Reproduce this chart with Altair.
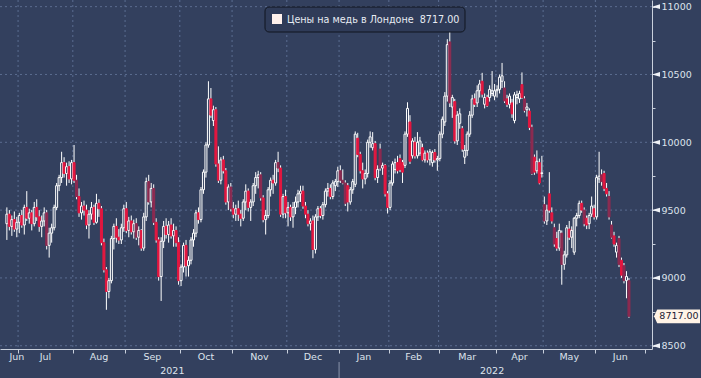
import altair as alt
import pandas as pd

# ---------------- data ----------------
opens = [
    9400, 9470, 9380, 9430, 9360,
    9410, 9460, 9390, 9520, 9440, 9480, 9400, 9520, 9450, 9380, 9420, 9480, 9240, 9330, 9370, 9520, 9680, 9740, 9850, 9770, 9820, 9730,
    9850, 9720, 9600, 9480, 9530, 9500, 9390, 9470, 9520, 9410, 9550, 9510, 9260, 9060, 8900, 8980, 9290, 9380, 9300, 9280, 9370,
    9510, 9350, 9420, 9340, 9400, 9300, 9350, 9220, 9450, 9710, 9560, 9660, 9410, 9280, 9010, 9270, 9380, 9320, 9390, 9310, 9350, 9260,
    8980, 9080, 9240, 9090, 9130, 9280, 9330, 9480, 9430, 9650, 9780, 9980, 10320, 10160, 10240, 9840, 9720, 9870, 9790, 9560, 9670,
    9510, 9470, 9510, 9470, 9440, 9560, 9640, 9520, 9560, 9680, 9740, 9760, 9590, 9430, 9460, 9650, 9720, 9700, 9850, 9810, 9470, 9600,
    9480, 9520, 9450, 9520, 9560, 9620, 9640, 9530, 9470, 9400, 9420, 9210, 9450, 9510, 9460, 9540, 9640, 9660, 9600, 9680, 9710,
    9790, 9720, 9700, 9680, 9560, 9650, 9690, 10030, 9910, 9790, 9730, 9770, 10000, 9960, 9990, 9740, 9950, 9810, 9830, 9620,
    9520, 9700, 9800, 9850, 9880, 9850, 9830, 10060, 10150, 9900, 10000, 9900, 9920, 9960, 9870, 9920, 9870, 9850, 9925, 9870,
    9880, 10060, 10150, 10340, 10740, 10260, 10300, 10010, 10140, 10100, 9890, 9940, 10060, 10200, 10320, 10290, 10380, 10450, 10280, 10330, 10330, 10360, 10340,
    10380, 10390, 10450, 10400, 10320, 10280, 10290, 10160, 10330, 10320, 10425, 10320, 10240, 10230, 10110, 9890, 9790, 9850, 9770,
    9540, 9420, 9620, 9480, 9370, 9290, 9220, 9330, 9100, 9170, 9360, 9300, 9190, 9440, 9460, 9550, 9500, 9440, 9400, 9470, 9510,
    9450, 9730, 9760, 9770, 9660, 9600, 9390, 9310, 9190, 9290, 9130, 9090, 8980, 8980,
]
highs = [
    9520, 9500, 9460, 9490, 9450,
    9480, 9500, 9540, 9640, 9510, 9500, 9560, 9580, 9500, 9460, 9520, 9500, 9370, 9400, 9540, 9700, 9760, 9930, 9890, 9850, 9860, 9870,
    9980, 9760, 9660, 9560, 9570, 9540, 9500, 9560, 9540, 9620, 9580, 9530, 9290, 9080, 9000, 9310, 9400, 9440, 9360, 9400, 9540,
    9560, 9450, 9460, 9430, 9440, 9380, 9360, 9480, 9740, 9760, 9700, 9690, 9440, 9300, 9300, 9420, 9440, 9420, 9440, 9400, 9380, 9300,
    9100, 9260, 9280, 9160, 9300, 9360, 9500, 9520, 9670, 9800, 10000, 10450, 10400, 10270, 10260, 9970, 9890, 9900, 9810, 9690, 9700,
    9560, 9540, 9570, 9500, 9580, 9690, 9660, 9580, 9700, 9780, 9790, 9780, 9610, 9500, 9670, 9740, 9760, 9870, 9930, 9830, 9620, 9650,
    9560, 9540, 9560, 9600, 9650, 9680, 9680, 9560, 9500, 9440, 9460, 9470, 9530, 9530, 9560, 9660, 9700, 9690, 9720, 9730, 9820,
    9830, 9800, 9720, 9700, 9670, 9730, 10080, 10070, 9930, 9850, 9800, 10020, 10080, 10075, 10010, 9830, 9990, 9850, 9840, 9640,
    9720, 9860, 9880, 9900, 9910, 9870, 10080, 10295, 10200, 10030, 10040, 10075, 10040, 9990, 9940, 9940, 9950, 9940, 9950, 9900,
    10080, 10190, 10370, 10760, 10845, 10350, 10320, 10230, 10250, 10120, 9980, 10080, 10230, 10350, 10360, 10420, 10460, 10512, 10360, 10350, 10420, 10525, 10430,
    10420, 10500, 10585, 10450, 10350, 10360, 10320, 10370, 10380, 10380, 10515, 10340, 10290, 10250, 10130, 9910, 9940, 9880, 9900,
    9600, 9540, 9780, 9520, 9400, 9340, 9400, 9350, 9200, 9390, 9420, 9380, 9450, 9480, 9570, 9570, 9520, 9460, 9480, 9600, 9540,
    9760, 9930, 9800, 9790, 9700, 9640, 9420, 9340, 9260, 9310, 9150, 9110, 9050, 9000,
]
lows = [
    9280, 9350, 9310, 9340, 9300,
    9330, 9370, 9320, 9420, 9400, 9350, 9380, 9420, 9340, 9300, 9380, 9210, 9150, 9260, 9350, 9500, 9640, 9700, 9740, 9680, 9700, 9690,
    9700, 9580, 9450, 9430, 9460, 9360, 9290, 9430, 9390, 9400, 9450, 9240, 9040, 8765, 8850, 8960, 9210, 9260, 9250, 9250, 9340,
    9330, 9300, 9320, 9290, 9280, 9240, 9200, 9200, 9420, 9540, 9520, 9390, 9260, 8980, 8830, 9220, 9290, 9260, 9290, 9230, 9230, 8950,
    8940, 9040, 9010, 9010, 9100, 9230, 9300, 9400, 9410, 9620, 9740, 9960, 10180, 10120, 9820, 9700, 9690, 9770, 9540, 9500, 9490,
    9440, 9420, 9420, 9380, 9420, 9500, 9490, 9420, 9530, 9620, 9660, 9570, 9410, 9320, 9440, 9600, 9620, 9680, 9780, 9450, 9440, 9440,
    9380, 9420, 9370, 9470, 9520, 9560, 9510, 9440, 9380, 9350, 9145, 9180, 9420, 9440, 9430, 9520, 9600, 9580, 9580, 9640, 9670,
    9700, 9690, 9530, 9490, 9540, 9620, 9670, 9890, 9770, 9660, 9690, 9740, 9960, 9940, 9720, 9700, 9790, 9760, 9600, 9475,
    9500, 9680, 9770, 9770, 9780, 9700, 9810, 10040, 9840, 9880, 9880, 9880, 9900, 9860, 9850, 9850, 9830, 9820, 9850, 9790,
    9860, 10030, 10120, 10300, 10260, 10180, 9990, 9980, 10100, 9930, 9840, 9900, 10040, 10180, 10260, 10260, 10330, 10330, 10250, 10260, 10300, 10340, 10310,
    10330, 10360, 10400, 10290, 10260, 10250, 10180, 10140, 10280, 10290, 10320, 10220, 10190, 10090, 9760, 9760, 9770, 9690, 9740,
    9400, 9390, 9480, 9400, 9230, 9200, 9200, 8950, 9060, 9150, 9280, 9220, 9170, 9380, 9440, 9480, 9380, 9360, 9360, 9450, 9430,
    9430, 9700, 9680, 9640, 9600, 9430, 9290, 9230, 9150, 9080, 9000, 8960, 8850, 8706,
]
closes = [
    9470, 9380, 9430, 9360, 9410,
    9460, 9390, 9520, 9440, 9480, 9400, 9520, 9450, 9380, 9420, 9480, 9240, 9330, 9370, 9520, 9680, 9740, 9850, 9770, 9820, 9730, 9850,
    9720, 9600, 9480, 9530, 9500, 9390, 9470, 9520, 9410, 9550, 9510, 9260, 9060, 8900, 8980, 9290, 9380, 9300, 9280, 9370, 9510,
    9350, 9420, 9340, 9400, 9300, 9350, 9220, 9450, 9710, 9560, 9660, 9410, 9280, 9010, 9270, 9380, 9320, 9390, 9310, 9350, 9260, 8980,
    9080, 9240, 9090, 9130, 9280, 9330, 9480, 9430, 9650, 9780, 9980, 10320, 10200, 10240, 9840, 9720, 9870, 9790, 9560, 9670, 9510,
    9470, 9510, 9470, 9440, 9560, 9640, 9520, 9560, 9680, 9740, 9760, 9590, 9430, 9460, 9650, 9720, 9700, 9850, 9810, 9470, 9600, 9480,
    9520, 9450, 9520, 9560, 9620, 9640, 9530, 9470, 9400, 9420, 9210, 9450, 9510, 9460, 9540, 9640, 9660, 9600, 9700, 9710, 9790,
    9720, 9700, 9550, 9560, 9650, 9710, 10060, 9910, 9790, 9730, 9770, 10000, 10040, 9990, 9740, 9800, 9810, 9830, 9620, 9520,
    9700, 9840, 9850, 9790, 9800, 9780, 10060, 10250, 9860, 10010, 9900, 10000, 10010, 9870, 9920, 9870, 9930, 9925, 9870, 9880,
    10060, 10170, 10340, 10720, 10290, 10330, 10010, 10200, 10210, 9950, 9940, 10060, 10200, 10320, 10280, 10380, 10430, 10355, 10330, 10270, 10390, 10380, 10380,
    10390, 10480, 10490, 10305, 10280, 10340, 10210, 10350, 10350, 10360, 10330, 10235, 10260, 10110, 9770, 9780, 9860, 9700, 9775,
    9420, 9500, 9500, 9420, 9250, 9220, 9350, 9100, 9170, 9370, 9300, 9350, 9440, 9460, 9550, 9500, 9400, 9390, 9460, 9530, 9450,
    9740, 9750, 9710, 9660, 9620, 9450, 9300, 9250, 9240, 9100, 9020, 8980, 9010, 8717,
]
# down days drawn in the darker (muted) red
dark_days = [16, 28, 52, 57, 59, 90, 102, 109, 134, 135, 136, 150, 178, 200, 208,
             211, 216, 220, 223, 232, 239, 242, 243, 246, 248, 250]

month_names = ["Jun", "Jul", "Aug", "Sep", "Oct", "Nov", "Dec",
               "Jan", "Feb", "Mar", "Apr", "May", "Jun"]
month_starts = [0, 5, 27, 48, 70, 91, 113, 134, 154, 174, 197, 216, 237, 257]
year_names = ["2021", "2022"]
year_starts = [0, 134, 257]
y_major = [8500, 9000, 9500, 10000, 10500, 11000]
y_ticks = [8500, 8750, 9000, 9250, 9500, 9750, 10000, 10250, 10500, 10750, 11000]
series_name = "Цены на медь в Лондоне"
last_price = 8717.00

# ---------------- styling ----------------
BG = "#33405e"
GRID = "#5b6c90"
AXIS = "#c9d0dc"
TEXT = "#dde3ec"
RED = "#e3163f"
DARK = "#8b2a50"
FONT = "DejaVu Sans"

W, H = 652, 349
xscale = alt.Scale(domain=[-0.75, 257.25], nice=False, zero=False)
yscale = alt.Scale(domain=[8476, 11049], nice=False, zero=False)

n = len(closes)
candles = pd.DataFrame({"slot": list(range(n)), "open": opens, "high": highs,
                        "low": lows, "close": closes})
candles["kind"] = [
    "up" if c >= o else ("dark" if i in dark_days else "bright")
    for i, (o, c) in enumerate(zip(opens, closes))
]

bounds = [s - 0.5 for s in month_starts[1:]]
grid_df = pd.DataFrame({"b": bounds[:-1]})
ymaj_df = pd.DataFrame({"v": y_major})

mid = [(a + b) / 2 - 0.5 for a, b in zip(month_starts[:-1], month_starts[1:])]
mid[0] = max(mid[0], 4.0)
months_df = pd.DataFrame({"name": month_names, "slot": mid})
years_df = pd.DataFrame({
    "name": year_names,
    "slot": [(a + b) / 2 - 0.5 for a, b in zip(year_starts[:-1], year_starts[1:])],
})
sep_df = pd.DataFrame({"b": [year_starts[1] - 0.5]})

# one shared axis definition per channel, used by every layer
yaxis = alt.Axis(
    orient="right", values=y_ticks, format="d",
    labelExpr="datum.value % 500 === 0 ? datum.label : ''",
    tickSize=3, tickColor=AXIS, domainColor=AXIS, grid=False,
    labelColor=TEXT, labelFont=FONT, labelFontSize=9.5, labelPadding=6,
    labelFlush=False, labelOverlap=False, labelBound=False, title=None)
xaxis = alt.Axis(
    orient="bottom", values=bounds, labels=False, tickSize=4,
    tickColor=AXIS, domainColor=AXIS, grid=False, title=None)


def X(field):
    return alt.X(field, scale=xscale, axis=xaxis)


def Y(field):
    return alt.Y(field, scale=yscale, axis=yaxis)


hgrid = alt.Chart(ymaj_df).mark_rule(color=GRID, strokeDash=[2, 3], strokeWidth=1).encode(
    y=Y("v:Q"))

vgrid = alt.Chart(grid_df).mark_rule(color=GRID, strokeDash=[2, 3], strokeWidth=1).encode(
    x=X("b:Q"))

wicks = alt.Chart(candles).mark_rule(color="#ffffff", strokeWidth=1).encode(
    x=X("slot:Q"), y=Y("low:Q"), y2="high:Q")

bodies = alt.Chart(candles).mark_bar(size=2, strokeWidth=1).encode(
    x=X("slot:Q"),
    y=Y("open:Q"),
    y2="close:Q",
    fill=alt.Fill("kind:N", scale=alt.Scale(domain=["up", "bright", "dark"],
                                            range=[BG, RED, DARK]), legend=None),
    stroke=alt.Stroke("kind:N", scale=alt.Scale(domain=["up", "bright", "dark"],
                                                range=["#ffffff", RED, DARK]), legend=None),
)

arrows = alt.Chart(ymaj_df).mark_point(
    shape="M -1 0 L 1 -0.6 L 1 0.6 Z", size=64, filled=True, color="#eef1f6", opacity=1
).encode(x=alt.value(656), y=Y("v:Q"))

last_df = pd.DataFrame({"v": [last_price], "t": [f"{last_price:.2f}"]})
tag = alt.Chart(last_df).mark_point(
    shape="M -1 0 L -0.86 -0.3 L 1 -0.3 L 1 0.3 L -0.86 0.3 Z", size=2116,
    filled=True, color="#fff3e6", opacity=1
).encode(x=alt.value(677), y=Y("v:Q"))
tag_text = alt.Chart(last_df).mark_text(
    font=FONT, fontSize=9.5, color="#1b2133", align="center", baseline="middle"
).encode(x=alt.value(679), y=Y("v:Q"), text="t:N")

leg_df = pd.DataFrame({"t": [series_name + "\u00a0 " + f"{last_price:.2f}"]})
leg_box = alt.Chart(leg_df).mark_rect(
    fill="#2f3b58", stroke="#10151f", strokeWidth=1, cornerRadius=4
).encode(x=alt.value(265), x2=alt.value(465), y=alt.value(7), y2=alt.value(32))
leg_sw = alt.Chart(leg_df).mark_rect(fill="#fff1ec").encode(
    x=alt.value(272), x2=alt.value(282), y=alt.value(14), y2=alt.value(24))
leg_txt = alt.Chart(leg_df).mark_text(
    font=FONT, fontSize=9.6, color="#e8ecf3", align="left", baseline="middle"
).encode(x=alt.value(287), y=alt.value(19.5), text="t:N")

month_txt = alt.Chart(months_df).mark_text(
    font=FONT, fontSize=9.5, color=TEXT, align="center", baseline="middle"
).encode(x=X("slot:Q"), y=alt.value(357), text="name:N")
year_txt = alt.Chart(years_df).mark_text(
    font=FONT, fontSize=9.5, color=TEXT, align="center", baseline="middle"
).encode(x=X("slot:Q"), y=alt.value(370.5), text="name:N")
sep = alt.Chart(sep_df).mark_rule(color="#8a94aa", strokeWidth=1).encode(
    x=X("b:Q"), y=alt.value(362), y2=alt.value(378))

chart = alt.layer(
    hgrid, vgrid, wicks, bodies, arrows, tag, tag_text,
    leg_box, leg_sw, leg_txt, month_txt, year_txt, sep
).properties(
    width=W, height=H,
    autosize=alt.AutoSizeParams(type="none"),
    padding={"left": 0, "top": 0, "right": 49, "bottom": 29},
    background=BG,
).configure_view(stroke=None)

chart.save("out.html", embed_options={"renderer": "svg", "actions": False})
